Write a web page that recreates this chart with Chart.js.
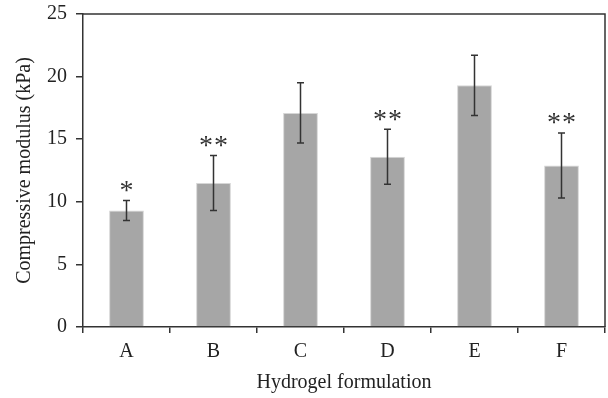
<!DOCTYPE html>
<html>
<head>
<meta charset="utf-8">
<script src="https://cdn.jsdelivr.net/npm/chart.js@4/dist/chart.umd.min.js"></script>
<style>
  html, body { margin: 0; padding: 0; background: #fff; }
  #wrap { width: 608px; height: 398px; }
</style>
</head>
<body>
<div id="wrap"><canvas id="chart_modulus" width="608" height="398"></canvas></div>
<script>
// data
const formulations = ['A', 'B', 'C', 'D', 'E', 'F'];
const modulus = [9.3, 11.5, 17.1, 13.6, 19.3, 12.9];
const modulusErr = [0.8, 2.2, 2.4, 2.2, 2.4, 2.6];
const significance = ['*', '**', '', '**', '', '**'];
const yTicks = [0, 5, 10, 15, 20, 25];

const serif = '"Liberation Serif", "DejaVu Serif", serif';

// error bars + asterisks drawn from the arrays above
const errorBarPlugin = {
    id: 'errorBars',
    afterDatasetsDraw(chart) {
        const ctx = chart.ctx;
        const x = chart.scales.x;
        const y = chart.scales.y;
        ctx.save();
        ctx.strokeStyle = '#333';
        ctx.lineWidth = 1.5;
        modulus.forEach((v, i) => {
            const cx = x.getPixelForValue(i);
            const top = y.getPixelForValue(v + modulusErr[i]);
            const bot = y.getPixelForValue(v - modulusErr[i]);
            ctx.beginPath();
            ctx.moveTo(cx, top); ctx.lineTo(cx, bot);
            ctx.moveTo(cx - 3.5, top); ctx.lineTo(cx + 3.5, top);
            ctx.moveTo(cx - 3.5, bot); ctx.lineTo(cx + 3.5, bot);
            ctx.stroke();

            const marks = significance[i].length;
            if (marks) {
                ctx.fillStyle = '#333';
                ctx.font = '28px ' + serif;
                ctx.textAlign = 'center';
                ctx.textBaseline = 'middle';
                for (let k = 0; k < marks; k++) {
                    const off = (k - (marks - 1) / 2) * 15;
                    ctx.fillText('*', cx + off, top - 9);
                }
            }
        });
        ctx.restore();
    }
};

// box around the plot area (top and right edges)
const framePlugin = {
    id: 'frame',
    afterDraw(chart) {
        const a = chart.chartArea;
        const ctx = chart.ctx;
        ctx.save();
        ctx.strokeStyle = '#333';
        ctx.lineWidth = 1.5;
        ctx.beginPath();
        ctx.moveTo(a.left, a.top); ctx.lineTo(a.right, a.top); ctx.lineTo(a.right, a.bottom);
        ctx.stroke();
        ctx.restore();
    }
};

let chartModulus = new Chart(
    document.getElementById('chart_modulus'),
    {
        type: 'bar',
        data: {
            labels: formulations,
            datasets: [
                {
                    label: 'Compressive modulus',
                    backgroundColor: '#a6a6a6',
                    borderColor: '#d6d6d6',
                    borderWidth: 1,
                    data: modulus,
                    categoryPercentage: 1,
                    barPercentage: 0.4,
                }
            ]
        },
        options: {
            responsive: false,
            animation: false,
            layout: { padding: { top: 14, right: 3, left: 0, bottom: 0 } },
            scales: {
                x: {
                    afterFit: s => { s.height = 71; s.paddingLeft = 0; s.paddingRight = 0; },
                    grid: { drawOnChartArea: false, drawTicks: true, tickLength: 6, color: '#333', lineWidth: 1.5, offset: true },
                    border: { display: true, color: '#333', width: 1.5 },
                    ticks: { color: '#222', padding: 7, font: { family: serif, size: 20 } },
                    title: {
                        display: true,
                        text: 'Hydrogel formulation',
                        color: '#222',
                        font: { family: serif, size: 20 },
                        padding: { top: 0, bottom: 3 },
                    },
                },
                y: {
                    min: 0,
                    max: 25,
                    afterFit: s => { s.width = 83; s.paddingTop = 0; s.paddingBottom = 0; },
                    afterBuildTicks: s => { s.ticks = yTicks.map(v => ({ value: v })); },
                    grid: { drawOnChartArea: false, drawTicks: true, tickLength: 7, color: '#333', lineWidth: 1.5 },
                    border: { display: true, color: '#333', width: 1.5 },
                    ticks: { color: '#222', padding: 9, font: { family: serif, size: 20 } },
                    title: {
                        display: true,
                        text: 'Compressive modulus (kPa)',
                        color: '#222',
                        font: { family: serif, size: 20 },
                        padding: { top: 13, bottom: 0 },
                    },
                },
            },
            plugins: {
                legend: { display: false },
                tooltip: { enabled: false },
            },
        },
        plugins: [errorBarPlugin, framePlugin],
    }
);
</script>
</body>
</html>
